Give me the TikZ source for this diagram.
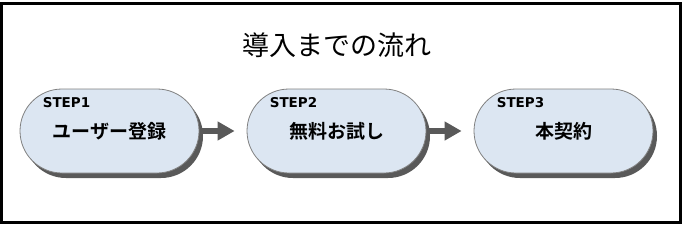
\documentclass[tikz,border=0pt]{standalone}
\definecolor{stepfill}{RGB}{220,230,242}
\definecolor{stepedge}{RGB}{128,128,128}
\definecolor{stepshade}{RGB}{89,89,89}
\usepackage{fontspec}
\setsansfont{DejaVu Sans}
\newfontfamily\jpfont[BoldFont={Noto Sans CJK JP Bold}]{Noto Sans CJK JP}
\usepackage{tikz}
\usetikzlibrary{arrows.meta, shapes.misc, shadows, positioning}

\begin{document}
\begin{tikzpicture}[
      x=1pt, y=1pt,
      stepbox/.style={
          draw=stepedge,
          fill=stepfill,
          rounded rectangle,
          line width=0.8pt,
          minimum width=179pt,
          minimum height=84pt,
          inner sep=0pt,
          font=\jpfont\bfseries\fontsize{19}{19}\selectfont,
          drop shadow={shadow xshift=4pt, shadow yshift=-5pt, fill=stepshade, opacity=1}
        },
      steplabel/.style={font=\sffamily\bfseries\fontsize{13.5}{13.5}\selectfont, anchor=base west, inner sep=0pt},
      flow/.style={-{Triangle[length=17pt, width=18pt]}, stepshade, line width=6pt},
      title/.style={font=\jpfont\fontsize{27}{27}\selectfont}
    ]
    \useasboundingbox (0,0) rectangle (684,228);
    \draw[line width=3pt] (1.5,5.5) rectangle (680.5,224.5);

    \node[title] (heading) at (337,183) {導入までの流れ};

    \node[stepbox] (signup) at (109.5,97) {ユーザー登録};
    \node[stepbox] (trial) at (336.5,97) {無料お試し};
    \node[stepbox] (contract) at (563.5,97) {本契約};

    \node[steplabel] (s1) at ([xshift=23pt, yshift=24pt]signup.west) {STEP1};
    \node[steplabel] (s2) at ([xshift=23pt, yshift=24pt]trial.west) {STEP2};
    \node[steplabel] (s3) at ([xshift=23pt, yshift=24pt]contract.west) {STEP3};

    \draw[flow] ([xshift=2pt]signup.east) -- ([xshift=-12pt]trial.west);
    \draw[flow] ([xshift=2pt]trial.east) -- ([xshift=-12pt]contract.west);
  \end{tikzpicture}
\end{document}
